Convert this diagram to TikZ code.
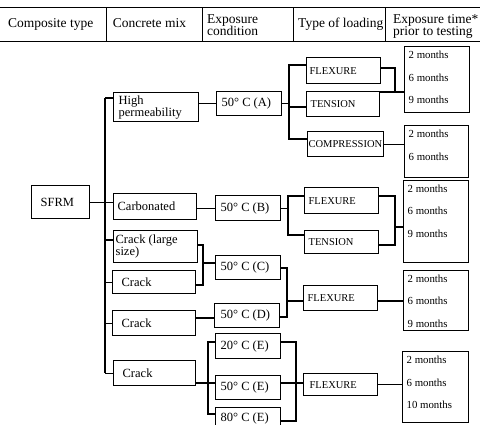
\documentclass[tikz,border=0pt]{standalone}
\usepackage{fontspec}
\setmainfont{Liberation Serif}
\newcommand\mybox[9]{\node[bx,#9] (#1) at (#2,#3) {\parbox[c][#5pt][#6]{#4pt}{\raggedright\leftskip=#7pt\relax #8}};}
\begin{document}
\begin{tikzpicture}[x=1pt,y=-1pt,
  bx/.style={draw, line width=1.3pt, inner sep=0pt, anchor=north west},
  conn/.style={line width=1.2pt},
  hl/.style={line width=1pt},
  hdr/.style={anchor=base west, inner sep=0pt, font=\fontsize{13.5}{11.5}\selectfont},
  mixf/.style={font=\fontsize{12.5}{12}\selectfont},
  capf/.style={font=\fontsize{10.5}{12}\selectfont},
  monf/.style={font=\fontsize{10.8}{22.5}\selectfont}]
\useasboundingbox (0,0) rectangle (480,424);
% header
\draw[hl] (0,7) -- (480,7);
\draw[hl] (0,41) -- (480,41);
\foreach \xx in {106,202,293,385} \draw[hl] (\xx,7) -- (\xx,41);
\node[hdr] (h1) at (8,27) {Composite type};
\node[hdr] (h2) at (112.7,27) {Concrete mix};
\node[hdr] (h3) at (207,23) {\begin{tabular}[t]{@{}l@{}}Exposure\\condition\end{tabular}};
\node[hdr] (h4) at (298,27) {Type of loading};
\node[hdr] (h5) at (393,23) {\begin{tabular}[t]{@{}l@{}}Exposure time*\\prior to testing\end{tabular}};
% boxes
\mybox{sfrm}{31}{185}{58}{33}{c}{9}{SFRM}{mixf}
\mybox{hp}{113}{92}{85}{29}{c}{5}{High\\permeability}{mixf}
\mybox{carb}{113}{193}{83}{26}{c}{4}{Carbonated}{mixf}
\mybox{crl}{113}{230}{84}{32}{c}{2}{Crack (large\\size)}{mixf}
\mybox{cra}{112}{270}{83}{23}{c}{9}{Crack}{mixf}
\mybox{crb}{112}{310}{83}{25}{c}{9}{Crack}{mixf}
\mybox{crc}{113}{360}{82}{25}{c}{9}{Crack}{mixf}
\mybox{ta}{216}{91}{65}{24}{c}{5}{50° C (A)}{mixf}
\mybox{tb}{215}{195}{65}{25}{c}{5}{50° C (B)}{mixf}
\mybox{tc}{215}{255}{65}{24}{c}{5}{50° C (C)}{mixf}
\mybox{td}{214}{303}{65}{24}{c}{6}{50° C (D)}{mixf}
\mybox{te1}{215}{333}{65}{25}{c}{5}{20° C (E)}{mixf}
\mybox{te2}{215}{375}{65}{24}{c}{5}{50° C (E)}{mixf}
\mybox{te3}{215}{407}{65}{21}{c}{5}{80° C (E)}{mixf}
\mybox{fa}{306}{57}{74}{26}{c}{3}{FLEXURE}{capf}
\mybox{sa}{306}{91}{73}{25}{c}{4}{TENSION}{capf}
\mybox{ca}{307}{131}{76}{25}{c}{1}{COMPRESSION}{capf}
\mybox{fb}{304}{187}{74}{26}{c}{4}{FLEXURE}{capf}
\mybox{sb}{304}{230}{74}{23}{c}{4}{TENSION}{capf}
\mybox{fcd}{303}{285}{74}{25}{c}{4}{FLEXURE}{capf}
\mybox{fe}{303}{373}{74}{22}{c}{6}{FLEXURE}{capf}
\mybox{ma1}{404}{46}{65}{66}{t}{4}{\rule{0pt}{12pt}2 months\\6 months\\9 months}{monf}
\mybox{ma2}{404}{125}{64}{52}{t}{4}{\rule{0pt}{12pt}2 months\\6 months}{monf}
\mybox{mb}{403}{180}{65}{82}{t}{4}{\rule{0pt}{11.5pt}2 months\\6 months\\9 months}{monf}
\mybox{mcd}{403}{270}{65}{60}{t}{4}{\rule{0pt}{11.5pt}2 months\\6 months\\9 months}{monf}
\mybox{me}{402}{351}{66}{71}{t}{4}{\rule{0pt}{12pt}2 months\\6 months\\10 months}{monf}
% trunk
\coordinate (tr1) at (105,98);
\coordinate (tr2) at (105,373);
\coordinate (k1) at (105,240);
\draw[conn] (tr1) -- (tr2);
\draw[conn] (tr1) -- (tr1 -| hp.west);
\draw[conn] (sfrm.east) -- (carb.west |- sfrm.east);
\draw[conn] (k1) -- (k1 -| crl.west);
\draw[conn] (cra.west) -- (cra.west -| tr1);
\draw[conn] (crb.west) -- (crb.west -| tr1);
\draw[conn] (crc.west) -- (crc.west -| tr1);
% mix -> exposure
\draw[conn] (ta.west) -- (ta.west -| hp.east);
\draw[conn] (tb.west) -- (tb.west -| carb.east);
\coordinate (b1) at (203,245);
\coordinate (b2) at (203,285);
\coordinate (b3) at (203,263);
\draw[conn] (b1 -| crl.east) -- (b1) -- (b2) -- (b2 -| cra.east);
\draw[conn] (b3) -- (b3 -| tc.west);
\coordinate (b4) at (200,318);
\draw[conn] (b4 -| crb.east) -- (b4 -| td.west);
\coordinate (e1) at (208,342);
\coordinate (e2) at (208,414);
\coordinate (e3) at (208,383);
\draw[conn] (e1 -| te1.west) -- (e1) -- (e2) -- (e2 -| te3.west);
\draw[conn] (e3 -| crc.east) -- (e3 -| te2.west);
% exposure -> loading
\coordinate (a1) at (289,65);
\coordinate (a2) at (289,139);
\coordinate (a3) at (289,107);
\draw[conn] (a1 -| fa.west) -- (a1) -- (a2) -- (a2 -| ca.west);
\draw[conn] (ta.east) -- (ta.east -| a1);
\draw[conn] (a3) -- (a3 -| sa.west);
\coordinate (bb1) at (288,196);
\coordinate (bb2) at (288,235);
\draw[conn] (bb1 -| fb.west) -- (bb1) -- (bb2) -- (bb2 -| sb.west);
\draw[conn] (tb.east) -- (tb.east -| bb1);
\coordinate (c1) at (287,268);
\coordinate (c2) at (287,317);
\coordinate (c3) at (287,301);
\draw[conn] (c1 -| tc.east) -- (c1) -- (c2) -- (c2 -| td.east);
\draw[conn] (c3) -- (c3 -| fcd.west);
\coordinate (f1) at (296,342);
\coordinate (f2) at (296,421);
\coordinate (f3) at (296,383);
\draw[conn] (f1 -| te1.east) -- (f1) -- (f2) -- (f2 -| te3.east);
\draw[conn] (f3 -| te2.east) -- (f3 -| fe.west);
% loading -> time
\coordinate (a4) at (395,68);
\coordinate (a5) at (395,92);
\draw[conn] (a4 -| fa.east) -- (a4) -- (a5) -- (a5 -| sa.east);
\draw[conn] (a5) -- (a5 -| ma1.west);
\draw[conn] (ca.east) -- (ca.east -| ma2.west);
\coordinate (bb3) at (395,196);
\coordinate (bb4) at (395,245);
\coordinate (bb5) at (395,227);
\draw[conn] (bb3 -| fb.east) -- (bb3) -- (bb4) -- (bb4 -| sb.east);
\draw[conn] (bb5) -- (bb5 -| mb.west);
\draw[conn] (c3 -| fcd.east) -- (c3 -| mcd.west);
\draw[conn] (fe.east) -- (fe.east -| me.west);
\end{tikzpicture}
\end{document}
